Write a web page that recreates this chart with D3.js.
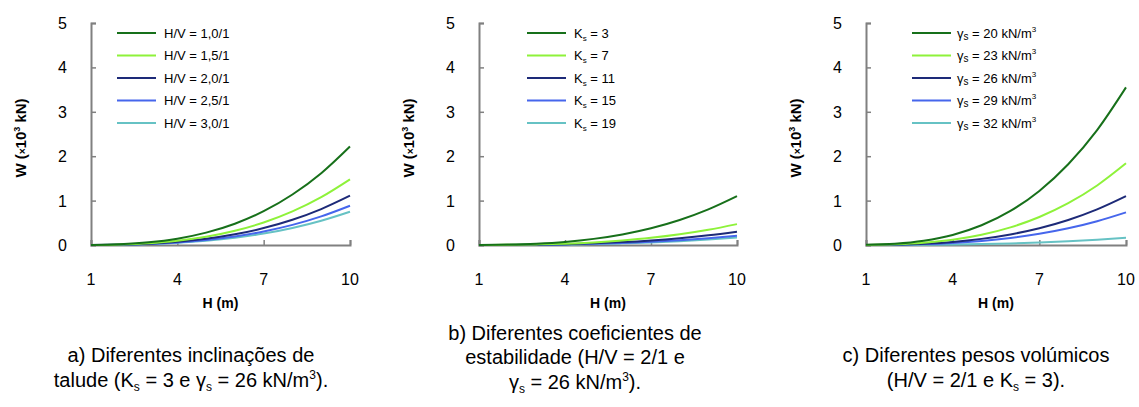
<!DOCTYPE html>
<html>
<head>
<meta charset="utf-8">
<script src="https://cdn.jsdelivr.net/npm/d3@7"></script>
<style>
  body { margin: 0; background: #fff; }
  svg { font-family: 'Liberation Sans', Arial, sans-serif; }
</style>
</head>
<body>
<svg id="chart"></svg>
<script>
//Chart data
let heights = [1, 2, 3, 4, 5, 6, 7, 8, 9, 10];
let xTicks = [1, 4, 7, 10];
let yTicks = [0, 1, 2, 3, 4, 5];

//a) H/V series
let seriesA1 = [0.002, 0.018, 0.060, 0.142, 0.278, 0.480, 0.761, 1.137, 1.618, 2.22];
let seriesA2 = [0.001, 0.012, 0.040, 0.095, 0.185, 0.320, 0.508, 0.758, 1.079, 1.48];
let seriesA3 = [0.001, 0.009, 0.030, 0.071, 0.139, 0.240, 0.381, 0.568, 0.809, 1.11];
let seriesA4 = [0.001, 0.007, 0.024, 0.057, 0.111, 0.191, 0.304, 0.453, 0.645, 0.885];
let seriesA5 = [0.001, 0.006, 0.020, 0.048, 0.094, 0.162, 0.257, 0.384, 0.547, 0.75];
let labelsA = ['H/V = 1,0/1', 'H/V = 1,5/1', 'H/V = 2,0/1', 'H/V = 2,5/1', 'H/V = 3,0/1'];

//b) Ks series
let seriesB1 = [0.001, 0.009, 0.030, 0.070, 0.138, 0.238, 0.377, 0.563, 0.802, 1.10];
let seriesB2 = [0.000, 0.004, 0.013, 0.030, 0.059, 0.102, 0.161, 0.241, 0.343, 0.47];
let seriesB3 = [0.000, 0.002, 0.008, 0.019, 0.038, 0.065, 0.103, 0.154, 0.219, 0.30];
let seriesB4 = [0.000, 0.002, 0.006, 0.013, 0.026, 0.045, 0.072, 0.108, 0.153, 0.21];
let seriesB5 = [0.000, 0.001, 0.005, 0.011, 0.021, 0.037, 0.058, 0.087, 0.124, 0.17];
let ksValues = ['3', '7', '11', '15', '19'];

//c) gamma series
let seriesC1 = [0.004, 0.028, 0.096, 0.227, 0.444, 0.767, 1.218, 1.818, 2.588, 3.55];
let seriesC2 = [0.002, 0.015, 0.050, 0.118, 0.230, 0.397, 0.631, 0.942, 1.341, 1.84];
let seriesC3 = [0.001, 0.009, 0.030, 0.070, 0.138, 0.238, 0.377, 0.563, 0.802, 1.10];
let seriesC4 = [0.001, 0.006, 0.020, 0.047, 0.092, 0.159, 0.252, 0.376, 0.536, 0.735];
let seriesC5 = [0.000, 0.001, 0.004, 0.011, 0.021, 0.036, 0.057, 0.084, 0.120, 0.165];
let gammaValues = ['20', '23', '26', '29', '32'];

//Colors
let colors = ['#17701a', '#8ef23a', '#1d2a78', '#4666ec', '#66c2c4'];

//Canvas
let canvasDimension = { width: 1139, height: 407 };
let svg = d3.select('#chart')
            .attr('width', canvasDimension.width)
            .attr('height', canvasDimension.height);

//Panel layout
let panels = [
  { left: 91, right: 350, titleX: 21, legendX: 117, series: [seriesA1, seriesA2, seriesA3, seriesA4, seriesA5], legend: 'hv', labels: labelsA },
  { left: 479, right: 737, titleX: 409, legendX: 527, series: [seriesB1, seriesB2, seriesB3, seriesB4, seriesB5], legend: 'ks', labels: ksValues },
  { left: 866, right: 1126, titleX: 796, legendX: 912, series: [seriesC1, seriesC2, seriesC3, seriesC4, seriesC5], legend: 'gamma', labels: gammaValues }
];
let plotTop = 23;
let plotBottom = 245;

//Legend text with sub/superscripts
function writeLegend(text, type, label){
  if(type == 'hv'){
    text.text(label);
  }else if(type == 'ks'){
    text.append('tspan').text('K');
    text.append('tspan').attr('font-size', 8).attr('dy', 3).text('s');
    text.append('tspan').attr('dy', -3).text(' = ' + label);
  }else{
    text.append('tspan').text('γ');
    text.append('tspan').attr('font-size', 10).attr('dy', 2).text('s');
    text.append('tspan').attr('dy', -2).text(' = ' + label + ' kN/m');
    text.append('tspan').attr('font-size', 8).attr('dy', -6).text('3');
  }
}

function drawPanel(p){
  let xScale = d3.scaleLinear().domain([1, 10]).range([p.left, p.right]);
  let yScale = d3.scaleLinear().domain([0, 5]).range([plotBottom, plotTop]);

  let g = svg.append('g');

  //Axes with ticks pointing inward
  let xAxis = d3.axisBottom(xScale).tickValues(xTicks).tickSize(-5).tickFormat('');
  let yAxis = d3.axisLeft(yScale).tickValues(yTicks).tickSize(-5).tickFormat('');

  let gx = g.append('g').attr('transform', 'translate(0,' + plotBottom + ')').call(xAxis);
  let gy = g.append('g').attr('transform', 'translate(' + p.left + ',0)').call(yAxis);
  [gx, gy].forEach((a) => {
    a.select('.domain').attr('stroke', '#808080').attr('stroke-width', 2);
    a.selectAll('.tick line').attr('stroke', '#808080').attr('stroke-width', 1.5);
  });

  //Tick labels
  g.selectAll('.xlab')
   .data(xTicks)
   .enter()
   .append('text')
   .attr('x', (d) => xScale(d))
   .attr('y', 285)
   .attr('text-anchor', 'middle')
   .attr('font-size', 16)
   .text((d) => d);

  g.selectAll('.ylab')
   .data(yTicks)
   .enter()
   .append('text')
   .attr('x', p.left - 24)
   .attr('y', (d) => yScale(d) + 6)
   .attr('text-anchor', 'end')
   .attr('font-size', 16)
   .text((d) => d);

  //Axis titles
  g.append('text')
   .attr('x', (p.left + p.right) / 2)
   .attr('y', 308)
   .attr('text-anchor', 'middle')
   .attr('font-size', 14)
   .attr('font-weight', 'bold')
   .text('H (m)');

  let yt = g.append('text')
            .attr('transform', 'translate(' + (p.titleX + 5) + ',138) rotate(-90)')
            .attr('text-anchor', 'middle')
            .attr('font-size', 15)
            .attr('font-weight', 'bold');
  yt.append('tspan').text('W (');
  yt.append('tspan').attr('font-size', 10).text('×');
  yt.append('tspan').text('10');
  yt.append('tspan').attr('font-size', 9).attr('dy', -6).text('3');
  yt.append('tspan').attr('dy', 6).text(' kN)');

  //Curves
  let line = d3.line()
               .x((d, i) => xScale(heights[i]))
               .y((d) => yScale(d))
               .curve(d3.curveMonotoneX);

  p.series.slice().reverse().forEach((s, j) => {
    let i = p.series.length - 1 - j;
    g.append('path')
     .datum(s)
     .attr('fill', 'none')
     .attr('stroke', colors[i])
     .attr('stroke-width', 2)
     .attr('d', line);
  });

  //Legend
  p.labels.forEach((label, i) => {
    let ly = 33 + i * 22.5;
    g.append('line')
     .attr('x1', p.legendX)
     .attr('x2', p.legendX + 39)
     .attr('y1', ly)
     .attr('y2', ly)
     .attr('stroke', colors[i])
     .attr('stroke-width', 2);
    let t = g.append('text')
             .attr('x', p.legendX + (p.legend == 'hv' ? 47 : p.legend == 'ks' ? 47 : 45))
             .attr('y', ly + 4.5)
             .attr('font-size', 13);
    writeLegend(t, p.legend, label);
  });
}

panels.forEach(drawPanel);

//Captions
function caption(x, y, parts){
  let t = svg.append('text')
             .attr('x', x)
             .attr('y', y)
             .attr('text-anchor', 'middle')
             .attr('font-size', 20);
  parts.forEach((p) => {
    let s = t.append('tspan').text(p[0]);
    if(p[1] == 'sub'){ s.attr('font-size', 12).attr('dy', 4); }
    if(p[1] == 'sup'){ s.attr('font-size', 12).attr('dy', -8); }
    if(p[2]){ s.attr('dy', p[2]); }
  });
}

caption(191, 362, [['a) Diferentes inclinações de']]);
caption(191, 387, [['talude (K'], ['s', 'sub'], [' = 3 e γ', null, -4], ['s', 'sub'], [' = 26 kN/m', null, -4], ['3', 'sup'], [').', null, 8]]);
caption(575, 340, [['b) Diferentes coeficientes de']]);
caption(575, 364, [['estabilidade (H/V = 2/1 e']]);
caption(575, 389, [['γ'], ['s', 'sub'], [' = 26 kN/m', null, -4], ['3', 'sup'], [').', null, 8]]);
caption(976, 362, [['c) Diferentes pesos volúmicos']]);
caption(976, 387, [['(H/V = 2/1 e K'], ['s', 'sub'], [' = 3).', null, -4]]);
</script>
</body>
</html>
